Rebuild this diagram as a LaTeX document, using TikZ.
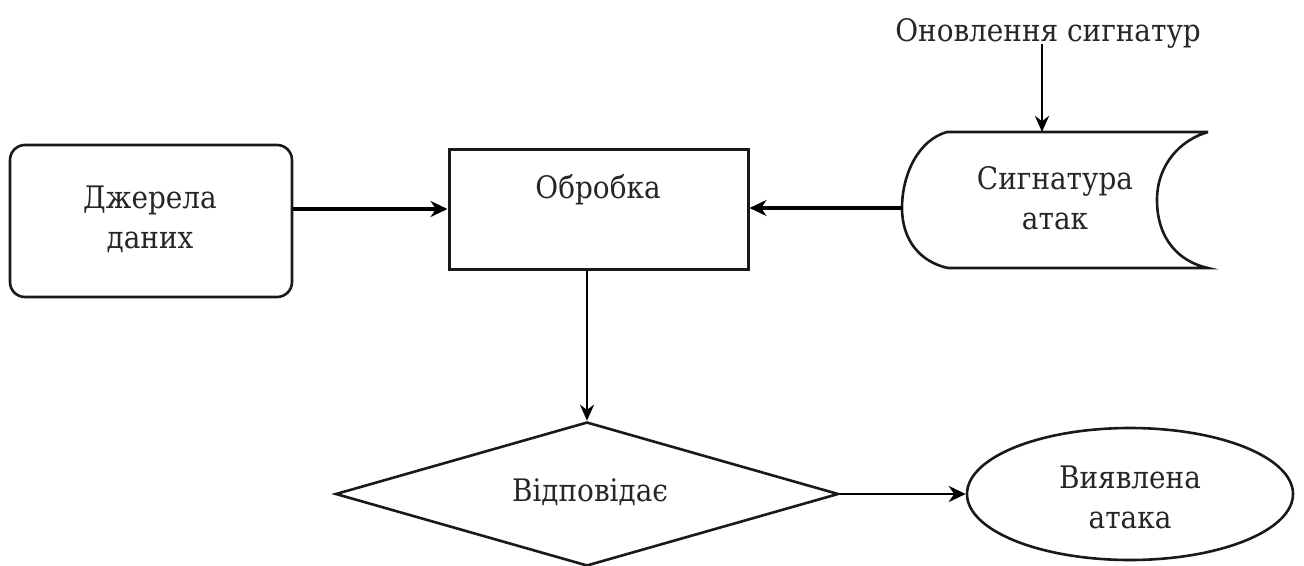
\documentclass[tikz,border=0pt]{standalone}
\usepackage{fontspec}
\setmainfont{DejaVu Serif Condensed}
\usetikzlibrary{shapes.geometric,arrows.meta}
\begin{document}
\begin{tikzpicture}[x=1pt,y=-1pt,
  lbl/.style={font=\fontsize{31}{40}\selectfont, align=center, inner sep=0pt, text=black!85},
  shp/.style={draw=black!90, line width=2.6pt},
  arr/.style={line width=3.6pt, -{Stealth[length=17pt,width=16pt]}},
  varr/.style={line width=2.8pt, -{Stealth[length=16pt,width=14pt]}}]
\useasboundingbox (0,0) rectangle (1304,565);
% source
\node[shp, rounded corners=15pt, minimum width=282pt, minimum height=152pt, inner sep=0pt] (src) at (151,221) {};
\node[lbl] (srct) at (150,219) {Джерела\\даних};
% processing
\node[shp, line width=3pt, minimum width=299pt, minimum height=120pt, inner sep=0pt] (obr) at (598.5,209) {};
\node[lbl] (obrt) at (598,190) {Обробка};
% signature storage
\coordinate (sigL) at (902,208);
\coordinate (sigT) at (1042,132);
\draw[shp] (1208,132) -- (947,132) .. controls (918,140) and (902,175) .. (sigL)
  .. controls (902,240) and (920,262) .. (948,268) -- (1208,268)
  .. controls (1180,262) and (1157,240) .. (1157,200) .. controls (1157,165) and (1180,140) .. (1208,132);
\node[lbl] (sigt) at (1055,198) {Сигнатура\\атак};
% update label
\node[lbl] (upd) at (1048,33) {Оновлення сигнатур};
\coordinate (updS) at (1042,44);
% decision
\node[shp, diamond, minimum width=503pt, minimum height=144pt, inner sep=0pt] (dec) at (587,494) {};
\node[lbl] (dect) at (590,492) {Відповідає};
% result
\node[shp, ellipse, minimum width=326pt, minimum height=132pt, inner sep=0pt] (res) at (1130,494) {};
\node[lbl] (rest) at (1130,497) {Виявлена\\атака};
% connectors
\draw[arr] (src.east |- obr.west) -- (obr.west);
\draw[arr] (sigL) -- (sigL -| obr.east);
\draw[varr] (updS) -- (sigT);
\draw[varr] (obr.south -| dec.north) -- (dec.north);
\draw[arr, line width=2.8pt] (dec.east) -- (res.west);
\end{tikzpicture}
\end{document}
